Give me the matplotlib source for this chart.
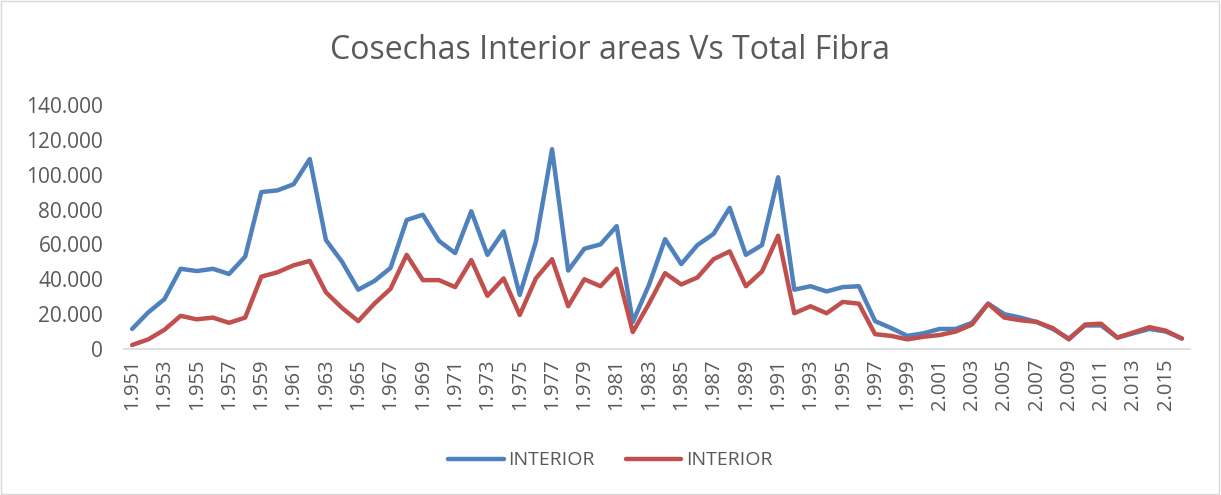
import numpy as np
import matplotlib
matplotlib.use('Agg')
from matplotlib import pyplot as plt
from matplotlib.patches import Rectangle

# datos
years = list(range(1951, 2017))
interior_1 = [11500, 21000, 28600, 46000, 44700, 46000, 43000, 53000, 90000, 91000,
              94500, 109000, 62500, 50000, 34000, 39000, 46500, 74000, 77000, 62000,
              55000, 79000, 54000, 67500, 31000, 61500, 114600, 45000, 57500, 60000,
              70500, 15500, 36700, 63000, 48700, 59600, 66000, 81000, 54000, 59600,
              98500, 34000, 36000, 33000, 35500, 36000, 16000, 12000, 7500, 9000,
              11500, 11500, 15000, 26000, 20000, 18000, 15500, 11500, 6000, 13500,
              13500, 6500, 9000, 11500, 10000, 6000]
interior_2 = [2300, 5500, 11000, 19000, 17000, 18000, 15000, 18000, 41500, 44000,
              48000, 50500, 32500, 23500, 16000, 26000, 34500, 54000, 39500, 39500,
              35500, 51000, 30500, 40500, 19500, 40500, 51500, 24500, 40000, 36000,
              46000, 9700, 26000, 43500, 37000, 41000, 51500, 56000, 36000, 44500,
              65000, 20500, 24500, 20500, 27000, 26000, 8500, 7500, 5500, 7000,
              8000, 10000, 14000, 26000, 18000, 16500, 15500, 12000, 5500, 14000,
              14500, 6500, 9500, 12500, 10500, 6000]
y_ticks = [0, 20000, 40000, 60000, 80000, 100000, 120000, 140000]

plt.rcParams['font.family'] = ['Open Sans', 'DejaVu Sans']
gris = '#595959'

fig = plt.figure(figsize=(12.21, 4.95), dpi=100)
ax = fig.add_axes([0.1016, 0.295, 0.873, 0.493])

x = np.arange(len(years))
ax.plot(x, interior_1, color='#4f81bd', lw=3.2, solid_capstyle='round', label='INTERIOR')
ax.plot(x, interior_2, color='#c0504d', lw=3.2, solid_capstyle='round', label='INTERIOR')

ax.set_xlim(-0.5, len(years) - 0.5)
ax.set_ylim(0, 140000)
ax.set_yticks(y_ticks)
ax.set_yticklabels([f'{v:,}'.replace(',', '.') for v in y_ticks], fontsize=15, color=gris)
ax.set_xticks(x[::2])
ax.set_xticklabels([f'{y:,}'.replace(',', '.') for y in years[::2]],
                   rotation=90, fontsize=14.5, color=gris)
ax.tick_params(axis='both', length=0)
ax.tick_params(axis='x', pad=7)
ax.tick_params(axis='y', pad=15)

for s in ['top', 'right', 'left']:
    ax.spines[s].set_visible(False)
ax.spines['bottom'].set_color('#d9d9d9')
ax.spines['bottom'].set_linewidth(1.2)

fig.text(0.5, 0.898, 'Cosechas Interior areas Vs Total Fibra', ha='center', va='center',
         fontsize=23, color=gris)

fig.legend(loc='center', bbox_to_anchor=(0.5, 0.07), ncol=2, frameon=False,
           fontsize=14, handlelength=2.85, handletextpad=0.25, columnspacing=1.6,
           labelcolor=gris)

fig.patches.append(Rectangle((0.001, 0.002), 0.997, 0.995, transform=fig.transFigure,
                             fill=False, edgecolor='#d9d9d9', lw=1))

plt.savefig('out.png', dpi=100)
